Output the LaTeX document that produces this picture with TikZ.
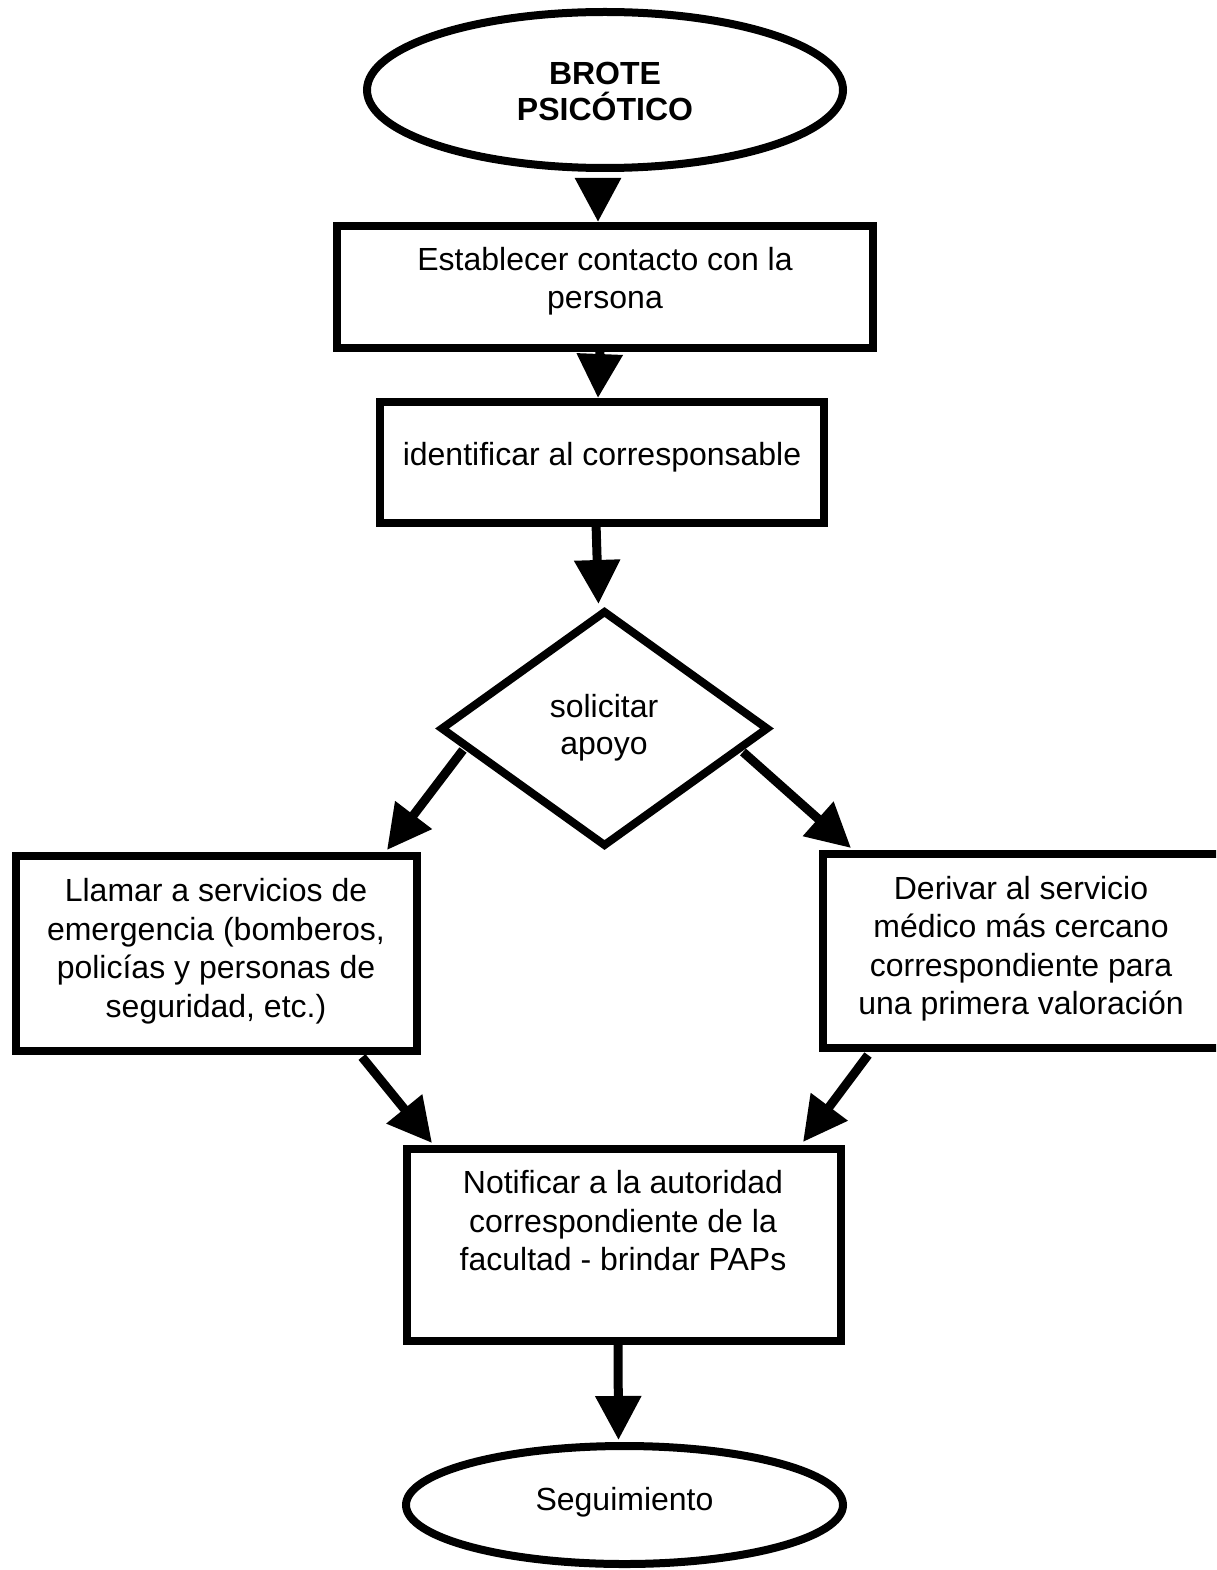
\documentclass[tikz,border=0pt]{standalone}
\usepackage{fontspec}
\setmainfont{Liberation Sans}
\usetikzlibrary{arrows.meta,shapes.geometric,calc}

\begin{document}
\begin{tikzpicture}[x=1pt,y=-1pt,
  boxnode/.style={draw, line width=8pt, rectangle, inner sep=0pt, outer sep=0pt},
  ovalnode/.style={draw, line width=8pt, ellipse, inner sep=0pt, outer sep=0pt},
  decision/.style={draw, line width=8pt, diamond, inner sep=0pt, outer sep=0pt},
  txt/.style={font=\fontsize{32}{38.5}\selectfont, align=center, inner sep=0pt},
  flow/.style={line width=9pt, -{Triangle[length=44pt,width=44pt]}},
]
\useasboundingbox (0,0) rectangle (1216,1570);
\clip (0,0) rectangle (1216,1570);

% shapes
\node[ovalnode, minimum width=476pt, minimum height=156pt] (start) at (605,90) {};
\node[txt, font=\fontsize{32}{36}\selectfont\bfseries] (startt) at (605,91) {BROTE\\PSICÓTICO};

\node[boxnode, minimum width=536pt, minimum height=122pt] (contact) at (605,287) {};
\node[txt] (contactt) at (605,281) {Establecer contacto con la\\persona};

\node[boxnode, minimum width=444pt, minimum height=121pt] (ident) at (602,462.5) {};
\node[txt] (identt) at (602,457) {identificar al corresponsable};

\node[decision, minimum width=325pt, minimum height=233pt] (choice) at (604.5,728.5) {};
\node[txt, font=\fontsize{32}{37}\selectfont] (choicet) at (604,727.5) {solicitar\\apoyo};

\node[boxnode, minimum width=401pt, minimum height=195pt] (lb) at (216.5,953.5) {};
\node[txt] (lbt) at (216,951) {Llamar a servicios de\\emergencia (bomberos,\\policías y personas de\\seguridad, etc.)};

\node[boxnode, minimum width=404pt, minimum height=194pt] (rb) at (1025,951) {};
\node[txt] (rbt) at (1021,948.5) {Derivar al servicio\\médico más cercano\\correspondiente para\\una primera valoración};

\node[boxnode, minimum width=434pt, minimum height=192pt] (bb) at (624,1245) {};
\node[txt] (bbt) at (623,1221) {Notificar a la autoridad\\correspondiente de la\\facultad - brindar PAPs};

\node[ovalnode, minimum width=437pt, minimum height=118pt] (finish) at (624.5,1505) {};
\node[txt] (finisht) at (624.5,1502) {Seguimiento};

% connectors
\draw[flow] ([xshift=-7pt,yshift=-10pt]start.south) -- ([xshift=-7pt,yshift=4pt]contact.north);
\draw[flow] ([xshift=-5pt]contact.south) -- ([xshift=-4pt,yshift=4pt]ident.north);
\draw[flow] ([xshift=-6pt]ident.south) -- ([xshift=-6pt,yshift=8pt]choice.north);
\draw[flow] ($(choice.center)+(-141.5,21.5)$) -- ([xshift=-30pt,yshift=6pt]lb.north east);
\draw[flow] ($(choice.center)+(138.5,23.5)$) -- ([xshift=28pt,yshift=6pt]rb.north west);
\draw[flow] ([xshift=-55pt,yshift=-6pt]lb.south east) -- ([xshift=25pt,yshift=6pt]bb.north west);
\draw[flow] ([xshift=45pt,yshift=-7pt]rb.south west) -- ([xshift=-38pt,yshift=7pt]bb.north east);
\draw[flow] ([xshift=-6pt]bb.south) -- ([xshift=-6pt,yshift=6pt]finish.north);
\end{tikzpicture}
\end{document}
